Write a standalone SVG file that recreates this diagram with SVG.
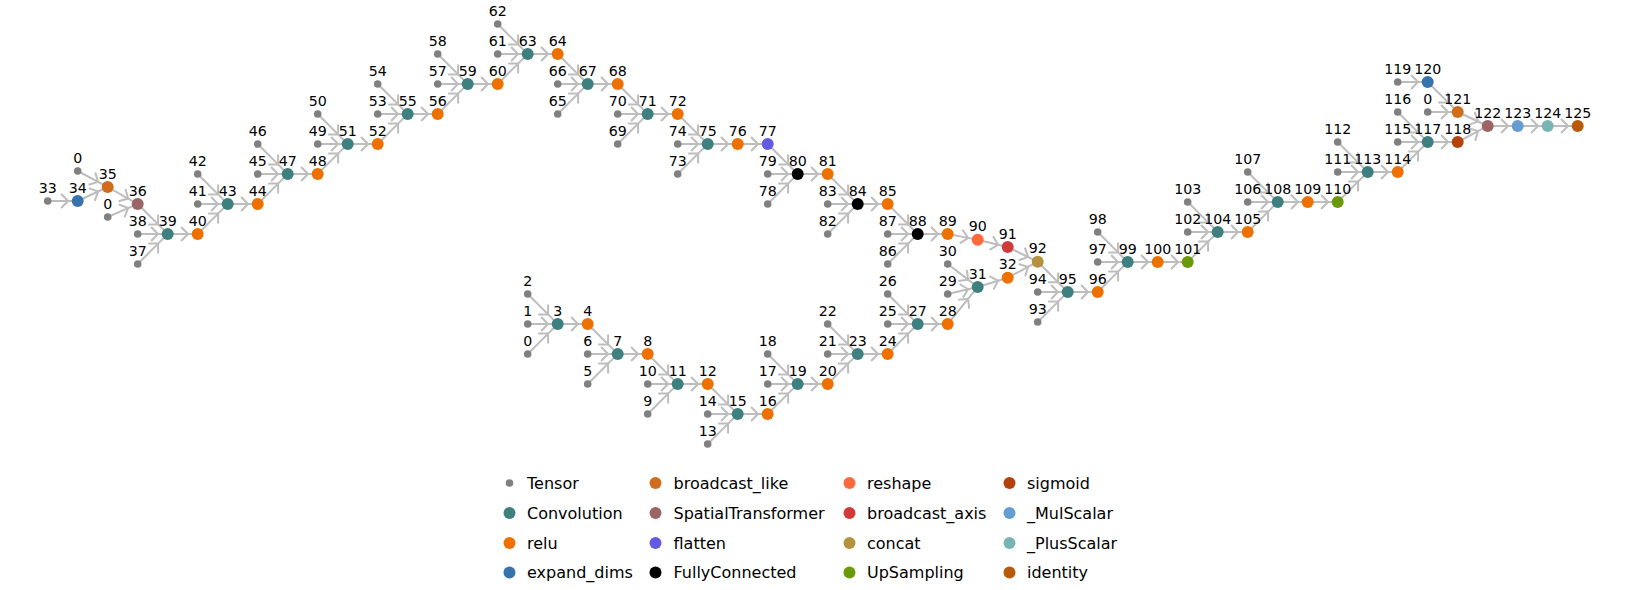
<svg xmlns="http://www.w3.org/2000/svg" width="1626" height="590" viewBox="0 0 1626 590">
<defs>
<marker id="ch" markerUnits="userSpaceOnUse" orient="auto" overflow="visible" markerWidth="20" markerHeight="20" refX="0" refY="0"><path d="M-7,-7 L0,0 L-7,7" fill="none" stroke="#bdbdbd" stroke-width="2"/></marker>
</defs>
<style>
.e{fill:none;stroke:#bdbdbd;stroke-width:2;marker-mid:url(#ch)}
text{font-family:"DejaVu Sans",sans-serif;font-size:14.2px;fill:#000;text-anchor:middle}
#legend text{font-size:16px;text-anchor:start}
.T{fill:#808080}.CV{fill:#3e7f7f}.RL{fill:#ee7100}.ED{fill:#3872ac}.BL{fill:#d06c1c}.ST{fill:#9c6464}.FL{fill:#645ae6}.FC{fill:#000}.RS{fill:#ff6a3c}.BA{fill:#d23a3a}.CC{fill:#b4913c}.UP{fill:#6a9a0a}.SG{fill:#b4420a}.MS{fill:#659cd2}.PS{fill:#78b4b4}.ID{fill:#b95a0a}
</style>
<rect width="1626" height="590" fill="#fff"/>
<g id="edges">
<path class="e" d="M47.7,201 l20.4,0 l9.6,0"/>
<path class="e" d="M77.7,201 l20.4,-9.52 l9.6,-4.48"/>
<path class="e" d="M77.7,171 l20.4,10.88 l9.6,5.12"/>
<path class="e" d="M107.7,187 l20.4,11.56 l9.6,5.44"/>
<path class="e" d="M107.7,217 l20.4,-8.84 l9.6,-4.16"/>
<path class="e" d="M137.7,204 l20.4,20.4 l9.6,9.6"/>
<path class="e" d="M137.7,234 l20.4,0 l9.6,0"/>
<path class="e" d="M137.7,264 l20.4,-20.4 l9.6,-9.6"/>
<path class="e" d="M167.7,234 l20.4,0 l9.6,0"/>
<path class="e" d="M197.7,234 l20.4,-20.4 l9.6,-9.6"/>
<path class="e" d="M197.7,174 l20.4,20.4 l9.6,9.6"/>
<path class="e" d="M197.7,204 l20.4,0 l9.6,0"/>
<path class="e" d="M227.7,204 l20.4,0 l9.6,0"/>
<path class="e" d="M257.7,204 l20.4,-20.4 l9.6,-9.6"/>
<path class="e" d="M257.7,144 l20.4,20.4 l9.6,9.6"/>
<path class="e" d="M257.7,174 l20.4,0 l9.6,0"/>
<path class="e" d="M287.7,174 l20.4,0 l9.6,0"/>
<path class="e" d="M317.7,174 l20.4,-20.4 l9.6,-9.6"/>
<path class="e" d="M317.7,114 l20.4,20.4 l9.6,9.6"/>
<path class="e" d="M317.7,144 l20.4,0 l9.6,0"/>
<path class="e" d="M347.7,144 l20.4,0 l9.6,0"/>
<path class="e" d="M377.7,144 l20.4,-20.4 l9.6,-9.6"/>
<path class="e" d="M377.7,84 l20.4,20.4 l9.6,9.6"/>
<path class="e" d="M377.7,114 l20.4,0 l9.6,0"/>
<path class="e" d="M407.7,114 l20.4,0 l9.6,0"/>
<path class="e" d="M437.7,114 l20.4,-20.4 l9.6,-9.6"/>
<path class="e" d="M437.7,54 l20.4,20.4 l9.6,9.6"/>
<path class="e" d="M437.7,84 l20.4,0 l9.6,0"/>
<path class="e" d="M467.7,84 l20.4,0 l9.6,0"/>
<path class="e" d="M497.7,84 l20.4,-20.4 l9.6,-9.6"/>
<path class="e" d="M497.7,24 l20.4,20.4 l9.6,9.6"/>
<path class="e" d="M497.7,54 l20.4,0 l9.6,0"/>
<path class="e" d="M527.7,54 l20.4,0 l9.6,0"/>
<path class="e" d="M557.7,54 l20.4,20.4 l9.6,9.6"/>
<path class="e" d="M557.7,84 l20.4,0 l9.6,0"/>
<path class="e" d="M557.7,114 l20.4,-20.4 l9.6,-9.6"/>
<path class="e" d="M587.7,84 l20.4,0 l9.6,0"/>
<path class="e" d="M617.7,84 l20.4,20.4 l9.6,9.6"/>
<path class="e" d="M617.7,114 l20.4,0 l9.6,0"/>
<path class="e" d="M617.7,144 l20.4,-20.4 l9.6,-9.6"/>
<path class="e" d="M647.7,114 l20.4,0 l9.6,0"/>
<path class="e" d="M677.7,114 l20.4,20.4 l9.6,9.6"/>
<path class="e" d="M677.7,144 l20.4,0 l9.6,0"/>
<path class="e" d="M677.7,174 l20.4,-20.4 l9.6,-9.6"/>
<path class="e" d="M707.7,144 l20.4,0 l9.6,0"/>
<path class="e" d="M737.7,144 l20.4,0 l9.6,0"/>
<path class="e" d="M767.7,144 l20.4,20.4 l9.6,9.6"/>
<path class="e" d="M767.7,174 l20.4,0 l9.6,0"/>
<path class="e" d="M767.7,204 l20.4,-20.4 l9.6,-9.6"/>
<path class="e" d="M797.7,174 l20.4,0 l9.6,0"/>
<path class="e" d="M827.7,174 l20.4,20.4 l9.6,9.6"/>
<path class="e" d="M827.7,204 l20.4,0 l9.6,0"/>
<path class="e" d="M827.7,234 l20.4,-20.4 l9.6,-9.6"/>
<path class="e" d="M857.7,204 l20.4,0 l9.6,0"/>
<path class="e" d="M887.7,204 l20.4,20.4 l9.6,9.6"/>
<path class="e" d="M887.7,234 l20.4,0 l9.6,0"/>
<path class="e" d="M887.7,264 l20.4,-20.4 l9.6,-9.6"/>
<path class="e" d="M917.7,234 l20.4,0 l9.6,0"/>
<path class="e" d="M947.7,234 l20.4,3.88 l9.6,1.82"/>
<path class="e" d="M977.7,239.7 l20.4,4.96 l9.6,2.34"/>
<path class="e" d="M1007.7,247 l20.4,10 l9.6,4.7"/>
<path class="e" d="M1007.7,277.7 l20.4,-10.88 l9.6,-5.12"/>
<path class="e" d="M527.7,294 l20.4,20.4 l9.6,9.6"/>
<path class="e" d="M527.7,324 l20.4,0 l9.6,0"/>
<path class="e" d="M527.7,354 l20.4,-20.4 l9.6,-9.6"/>
<path class="e" d="M557.7,324 l20.4,0 l9.6,0"/>
<path class="e" d="M587.7,324 l20.4,20.4 l9.6,9.6"/>
<path class="e" d="M587.7,354 l20.4,0 l9.6,0"/>
<path class="e" d="M587.7,384 l20.4,-20.4 l9.6,-9.6"/>
<path class="e" d="M617.7,354 l20.4,0 l9.6,0"/>
<path class="e" d="M647.7,354 l20.4,20.4 l9.6,9.6"/>
<path class="e" d="M647.7,384 l20.4,0 l9.6,0"/>
<path class="e" d="M647.7,414 l20.4,-20.4 l9.6,-9.6"/>
<path class="e" d="M677.7,384 l20.4,0 l9.6,0"/>
<path class="e" d="M707.7,384 l20.4,20.4 l9.6,9.6"/>
<path class="e" d="M707.7,414 l20.4,0 l9.6,0"/>
<path class="e" d="M707.7,444 l20.4,-20.4 l9.6,-9.6"/>
<path class="e" d="M737.7,414 l20.4,0 l9.6,0"/>
<path class="e" d="M767.7,414 l20.4,-20.4 l9.6,-9.6"/>
<path class="e" d="M767.7,354 l20.4,20.4 l9.6,9.6"/>
<path class="e" d="M767.7,384 l20.4,0 l9.6,0"/>
<path class="e" d="M797.7,384 l20.4,0 l9.6,0"/>
<path class="e" d="M827.7,384 l20.4,-20.4 l9.6,-9.6"/>
<path class="e" d="M827.7,324 l20.4,20.4 l9.6,9.6"/>
<path class="e" d="M827.7,354 l20.4,0 l9.6,0"/>
<path class="e" d="M857.7,354 l20.4,0 l9.6,0"/>
<path class="e" d="M887.7,354 l20.4,-20.4 l9.6,-9.6"/>
<path class="e" d="M887.7,294 l20.4,20.4 l9.6,9.6"/>
<path class="e" d="M887.7,324 l20.4,0 l9.6,0"/>
<path class="e" d="M917.7,324 l20.4,0 l9.6,0"/>
<path class="e" d="M947.7,324 l20.4,-25.16 l9.6,-11.84"/>
<path class="e" d="M947.7,264 l20.4,15.64 l9.6,7.36"/>
<path class="e" d="M947.7,294 l20.4,-4.76 l9.6,-2.24"/>
<path class="e" d="M977.7,287 l20.4,-6.32 l9.6,-2.98"/>
<path class="e" d="M1037.7,261.7 l20.4,20.6 l9.6,9.7"/>
<path class="e" d="M1037.7,292 l20.4,0 l9.6,0"/>
<path class="e" d="M1037.7,322 l20.4,-20.4 l9.6,-9.6"/>
<path class="e" d="M1067.7,292 l20.4,0 l9.6,0"/>
<path class="e" d="M1097.7,292 l20.4,-20.4 l9.6,-9.6"/>
<path class="e" d="M1097.7,232 l20.4,20.4 l9.6,9.6"/>
<path class="e" d="M1097.7,262 l20.4,0 l9.6,0"/>
<path class="e" d="M1127.7,262 l20.4,0 l9.6,0"/>
<path class="e" d="M1157.7,262 l20.4,0 l9.6,0"/>
<path class="e" d="M1187.7,262 l20.4,-20.4 l9.6,-9.6"/>
<path class="e" d="M1187.7,202 l20.4,20.4 l9.6,9.6"/>
<path class="e" d="M1187.7,232 l20.4,0 l9.6,0"/>
<path class="e" d="M1217.7,232 l20.4,0 l9.6,0"/>
<path class="e" d="M1247.7,232 l20.4,-20.4 l9.6,-9.6"/>
<path class="e" d="M1247.7,172 l20.4,20.4 l9.6,9.6"/>
<path class="e" d="M1247.7,202 l20.4,0 l9.6,0"/>
<path class="e" d="M1277.7,202 l20.4,0 l9.6,0"/>
<path class="e" d="M1307.7,202 l20.4,0 l9.6,0"/>
<path class="e" d="M1337.7,202 l20.4,-20.4 l9.6,-9.6"/>
<path class="e" d="M1337.7,142 l20.4,20.4 l9.6,9.6"/>
<path class="e" d="M1337.7,172 l20.4,0 l9.6,0"/>
<path class="e" d="M1367.7,172 l20.4,0 l9.6,0"/>
<path class="e" d="M1397.7,172 l20.4,-20.4 l9.6,-9.6"/>
<path class="e" d="M1397.7,112 l20.4,20.4 l9.6,9.6"/>
<path class="e" d="M1397.7,142 l20.4,0 l9.6,0"/>
<path class="e" d="M1427.7,142 l20.4,0 l9.6,0"/>
<path class="e" d="M1457.7,142 l20.4,-10.88 l9.6,-5.12"/>
<path class="e" d="M1457.7,112 l20.4,9.52 l9.6,4.48"/>
<path class="e" d="M1397.7,82 l20.4,0 l9.6,0"/>
<path class="e" d="M1427.7,82 l20.4,20.4 l9.6,9.6"/>
<path class="e" d="M1427.7,112 l20.4,0 l9.6,0"/>
<path class="e" d="M1487.7,126 l20.4,0 l9.6,0"/>
<path class="e" d="M1517.7,126 l20.4,0 l9.6,0"/>
<path class="e" d="M1547.7,126 l20.4,0 l9.6,0"/>
</g>
<g id="nodes">
<g id="n33"><circle class="T" cx="47.7" cy="201" r="3.8"/><text x="47.7" y="192.5">33</text></g>
<g id="n34"><circle class="ED" cx="77.7" cy="201" r="6"/><text x="77.7" y="192.5">34</text></g>
<g id="n0a"><circle class="T" cx="77.7" cy="171" r="3.8"/><text x="77.7" y="162.5">0</text></g>
<g id="n35"><circle class="BL" cx="107.7" cy="187" r="6"/><text x="107.7" y="178.5">35</text></g>
<g id="n0b"><circle class="T" cx="107.7" cy="217" r="3.8"/><text x="107.7" y="208.5">0</text></g>
<g id="n36"><circle class="ST" cx="137.7" cy="204" r="6"/><text x="137.7" y="195.5">36</text></g>
<g id="n38"><circle class="T" cx="137.7" cy="234" r="3.8"/><text x="137.7" y="225.5">38</text></g>
<g id="n37"><circle class="T" cx="137.7" cy="264" r="3.8"/><text x="137.7" y="255.5">37</text></g>
<g id="n39"><circle class="CV" cx="167.7" cy="234" r="6"/><text x="167.7" y="225.5">39</text></g>
<g id="n40"><circle class="RL" cx="197.7" cy="234" r="6"/><text x="197.7" y="225.5">40</text></g>
<g id="n42"><circle class="T" cx="197.7" cy="174" r="3.8"/><text x="197.7" y="165.5">42</text></g>
<g id="n41"><circle class="T" cx="197.7" cy="204" r="3.8"/><text x="197.7" y="195.5">41</text></g>
<g id="n43"><circle class="CV" cx="227.7" cy="204" r="6"/><text x="227.7" y="195.5">43</text></g>
<g id="n44"><circle class="RL" cx="257.7" cy="204" r="6"/><text x="257.7" y="195.5">44</text></g>
<g id="n46"><circle class="T" cx="257.7" cy="144" r="3.8"/><text x="257.7" y="135.5">46</text></g>
<g id="n45"><circle class="T" cx="257.7" cy="174" r="3.8"/><text x="257.7" y="165.5">45</text></g>
<g id="n47"><circle class="CV" cx="287.7" cy="174" r="6"/><text x="287.7" y="165.5">47</text></g>
<g id="n48"><circle class="RL" cx="317.7" cy="174" r="6"/><text x="317.7" y="165.5">48</text></g>
<g id="n50"><circle class="T" cx="317.7" cy="114" r="3.8"/><text x="317.7" y="105.5">50</text></g>
<g id="n49"><circle class="T" cx="317.7" cy="144" r="3.8"/><text x="317.7" y="135.5">49</text></g>
<g id="n51"><circle class="CV" cx="347.7" cy="144" r="6"/><text x="347.7" y="135.5">51</text></g>
<g id="n52"><circle class="RL" cx="377.7" cy="144" r="6"/><text x="377.7" y="135.5">52</text></g>
<g id="n54"><circle class="T" cx="377.7" cy="84" r="3.8"/><text x="377.7" y="75.5">54</text></g>
<g id="n53"><circle class="T" cx="377.7" cy="114" r="3.8"/><text x="377.7" y="105.5">53</text></g>
<g id="n55"><circle class="CV" cx="407.7" cy="114" r="6"/><text x="407.7" y="105.5">55</text></g>
<g id="n56"><circle class="RL" cx="437.7" cy="114" r="6"/><text x="437.7" y="105.5">56</text></g>
<g id="n58"><circle class="T" cx="437.7" cy="54" r="3.8"/><text x="437.7" y="45.5">58</text></g>
<g id="n57"><circle class="T" cx="437.7" cy="84" r="3.8"/><text x="437.7" y="75.5">57</text></g>
<g id="n59"><circle class="CV" cx="467.7" cy="84" r="6"/><text x="467.7" y="75.5">59</text></g>
<g id="n60"><circle class="RL" cx="497.7" cy="84" r="6"/><text x="497.7" y="75.5">60</text></g>
<g id="n62"><circle class="T" cx="497.7" cy="24" r="3.8"/><text x="497.7" y="15.5">62</text></g>
<g id="n61"><circle class="T" cx="497.7" cy="54" r="3.8"/><text x="497.7" y="45.5">61</text></g>
<g id="n63"><circle class="CV" cx="527.7" cy="54" r="6"/><text x="527.7" y="45.5">63</text></g>
<g id="n64"><circle class="RL" cx="557.7" cy="54" r="6"/><text x="557.7" y="45.5">64</text></g>
<g id="n66"><circle class="T" cx="557.7" cy="84" r="3.8"/><text x="557.7" y="75.5">66</text></g>
<g id="n65"><circle class="T" cx="557.7" cy="114" r="3.8"/><text x="557.7" y="105.5">65</text></g>
<g id="n67"><circle class="CV" cx="587.7" cy="84" r="6"/><text x="587.7" y="75.5">67</text></g>
<g id="n68"><circle class="RL" cx="617.7" cy="84" r="6"/><text x="617.7" y="75.5">68</text></g>
<g id="n70"><circle class="T" cx="617.7" cy="114" r="3.8"/><text x="617.7" y="105.5">70</text></g>
<g id="n69"><circle class="T" cx="617.7" cy="144" r="3.8"/><text x="617.7" y="135.5">69</text></g>
<g id="n71"><circle class="CV" cx="647.7" cy="114" r="6"/><text x="647.7" y="105.5">71</text></g>
<g id="n72"><circle class="RL" cx="677.7" cy="114" r="6"/><text x="677.7" y="105.5">72</text></g>
<g id="n74"><circle class="T" cx="677.7" cy="144" r="3.8"/><text x="677.7" y="135.5">74</text></g>
<g id="n73"><circle class="T" cx="677.7" cy="174" r="3.8"/><text x="677.7" y="165.5">73</text></g>
<g id="n75"><circle class="CV" cx="707.7" cy="144" r="6"/><text x="707.7" y="135.5">75</text></g>
<g id="n76"><circle class="RL" cx="737.7" cy="144" r="6"/><text x="737.7" y="135.5">76</text></g>
<g id="n77"><circle class="FL" cx="767.7" cy="144" r="6"/><text x="767.7" y="135.5">77</text></g>
<g id="n79"><circle class="T" cx="767.7" cy="174" r="3.8"/><text x="767.7" y="165.5">79</text></g>
<g id="n78"><circle class="T" cx="767.7" cy="204" r="3.8"/><text x="767.7" y="195.5">78</text></g>
<g id="n80"><circle class="FC" cx="797.7" cy="174" r="6"/><text x="797.7" y="165.5">80</text></g>
<g id="n81"><circle class="RL" cx="827.7" cy="174" r="6"/><text x="827.7" y="165.5">81</text></g>
<g id="n83"><circle class="T" cx="827.7" cy="204" r="3.8"/><text x="827.7" y="195.5">83</text></g>
<g id="n82"><circle class="T" cx="827.7" cy="234" r="3.8"/><text x="827.7" y="225.5">82</text></g>
<g id="n84"><circle class="FC" cx="857.7" cy="204" r="6"/><text x="857.7" y="195.5">84</text></g>
<g id="n85"><circle class="RL" cx="887.7" cy="204" r="6"/><text x="887.7" y="195.5">85</text></g>
<g id="n87"><circle class="T" cx="887.7" cy="234" r="3.8"/><text x="887.7" y="225.5">87</text></g>
<g id="n86"><circle class="T" cx="887.7" cy="264" r="3.8"/><text x="887.7" y="255.5">86</text></g>
<g id="n88"><circle class="FC" cx="917.7" cy="234" r="6"/><text x="917.7" y="225.5">88</text></g>
<g id="n89"><circle class="RL" cx="947.7" cy="234" r="6"/><text x="947.7" y="225.5">89</text></g>
<g id="n90"><circle class="RS" cx="977.7" cy="239.7" r="6"/><text x="977.7" y="231.2">90</text></g>
<g id="n91"><circle class="BA" cx="1007.7" cy="247" r="6"/><text x="1007.7" y="238.5">91</text></g>
<g id="n92"><circle class="CC" cx="1037.7" cy="261.7" r="6"/><text x="1037.7" y="253.2">92</text></g>
<g id="n2"><circle class="T" cx="527.7" cy="294" r="3.8"/><text x="527.7" y="285.5">2</text></g>
<g id="n1"><circle class="T" cx="527.7" cy="324" r="3.8"/><text x="527.7" y="315.5">1</text></g>
<g id="n0c"><circle class="T" cx="527.7" cy="354" r="3.8"/><text x="527.7" y="345.5">0</text></g>
<g id="n3"><circle class="CV" cx="557.7" cy="324" r="6"/><text x="557.7" y="315.5">3</text></g>
<g id="n4"><circle class="RL" cx="587.7" cy="324" r="6"/><text x="587.7" y="315.5">4</text></g>
<g id="n6"><circle class="T" cx="587.7" cy="354" r="3.8"/><text x="587.7" y="345.5">6</text></g>
<g id="n5"><circle class="T" cx="587.7" cy="384" r="3.8"/><text x="587.7" y="375.5">5</text></g>
<g id="n7"><circle class="CV" cx="617.7" cy="354" r="6"/><text x="617.7" y="345.5">7</text></g>
<g id="n8"><circle class="RL" cx="647.7" cy="354" r="6"/><text x="647.7" y="345.5">8</text></g>
<g id="n10"><circle class="T" cx="647.7" cy="384" r="3.8"/><text x="647.7" y="375.5">10</text></g>
<g id="n9"><circle class="T" cx="647.7" cy="414" r="3.8"/><text x="647.7" y="405.5">9</text></g>
<g id="n11"><circle class="CV" cx="677.7" cy="384" r="6"/><text x="677.7" y="375.5">11</text></g>
<g id="n12"><circle class="RL" cx="707.7" cy="384" r="6"/><text x="707.7" y="375.5">12</text></g>
<g id="n14"><circle class="T" cx="707.7" cy="414" r="3.8"/><text x="707.7" y="405.5">14</text></g>
<g id="n13"><circle class="T" cx="707.7" cy="444" r="3.8"/><text x="707.7" y="435.5">13</text></g>
<g id="n15"><circle class="CV" cx="737.7" cy="414" r="6"/><text x="737.7" y="405.5">15</text></g>
<g id="n16"><circle class="RL" cx="767.7" cy="414" r="6"/><text x="767.7" y="405.5">16</text></g>
<g id="n18"><circle class="T" cx="767.7" cy="354" r="3.8"/><text x="767.7" y="345.5">18</text></g>
<g id="n17"><circle class="T" cx="767.7" cy="384" r="3.8"/><text x="767.7" y="375.5">17</text></g>
<g id="n19"><circle class="CV" cx="797.7" cy="384" r="6"/><text x="797.7" y="375.5">19</text></g>
<g id="n20"><circle class="RL" cx="827.7" cy="384" r="6"/><text x="827.7" y="375.5">20</text></g>
<g id="n22"><circle class="T" cx="827.7" cy="324" r="3.8"/><text x="827.7" y="315.5">22</text></g>
<g id="n21"><circle class="T" cx="827.7" cy="354" r="3.8"/><text x="827.7" y="345.5">21</text></g>
<g id="n23"><circle class="CV" cx="857.7" cy="354" r="6"/><text x="857.7" y="345.5">23</text></g>
<g id="n24"><circle class="RL" cx="887.7" cy="354" r="6"/><text x="887.7" y="345.5">24</text></g>
<g id="n26"><circle class="T" cx="887.7" cy="294" r="3.8"/><text x="887.7" y="285.5">26</text></g>
<g id="n25"><circle class="T" cx="887.7" cy="324" r="3.8"/><text x="887.7" y="315.5">25</text></g>
<g id="n27"><circle class="CV" cx="917.7" cy="324" r="6"/><text x="917.7" y="315.5">27</text></g>
<g id="n28"><circle class="RL" cx="947.7" cy="324" r="6"/><text x="947.7" y="315.5">28</text></g>
<g id="n30"><circle class="T" cx="947.7" cy="264" r="3.8"/><text x="947.7" y="255.5">30</text></g>
<g id="n29"><circle class="T" cx="947.7" cy="294" r="3.8"/><text x="947.7" y="285.5">29</text></g>
<g id="n31"><circle class="CV" cx="977.7" cy="287" r="6"/><text x="977.7" y="278.5">31</text></g>
<g id="n32"><circle class="RL" cx="1007.7" cy="277.7" r="6"/><text x="1007.7" y="269.2">32</text></g>
<g id="n94"><circle class="T" cx="1037.7" cy="292" r="3.8"/><text x="1037.7" y="283.5">94</text></g>
<g id="n93"><circle class="T" cx="1037.7" cy="322" r="3.8"/><text x="1037.7" y="313.5">93</text></g>
<g id="n95"><circle class="CV" cx="1067.7" cy="292" r="6"/><text x="1067.7" y="283.5">95</text></g>
<g id="n96"><circle class="RL" cx="1097.7" cy="292" r="6"/><text x="1097.7" y="283.5">96</text></g>
<g id="n98"><circle class="T" cx="1097.7" cy="232" r="3.8"/><text x="1097.7" y="223.5">98</text></g>
<g id="n97"><circle class="T" cx="1097.7" cy="262" r="3.8"/><text x="1097.7" y="253.5">97</text></g>
<g id="n99"><circle class="CV" cx="1127.7" cy="262" r="6"/><text x="1127.7" y="253.5">99</text></g>
<g id="n100"><circle class="RL" cx="1157.7" cy="262" r="6"/><text x="1157.7" y="253.5">100</text></g>
<g id="n101"><circle class="UP" cx="1187.7" cy="262" r="6"/><text x="1187.7" y="253.5">101</text></g>
<g id="n103"><circle class="T" cx="1187.7" cy="202" r="3.8"/><text x="1187.7" y="193.5">103</text></g>
<g id="n102"><circle class="T" cx="1187.7" cy="232" r="3.8"/><text x="1187.7" y="223.5">102</text></g>
<g id="n104"><circle class="CV" cx="1217.7" cy="232" r="6"/><text x="1217.7" y="223.5">104</text></g>
<g id="n105"><circle class="RL" cx="1247.7" cy="232" r="6"/><text x="1247.7" y="223.5">105</text></g>
<g id="n107"><circle class="T" cx="1247.7" cy="172" r="3.8"/><text x="1247.7" y="163.5">107</text></g>
<g id="n106"><circle class="T" cx="1247.7" cy="202" r="3.8"/><text x="1247.7" y="193.5">106</text></g>
<g id="n108"><circle class="CV" cx="1277.7" cy="202" r="6"/><text x="1277.7" y="193.5">108</text></g>
<g id="n109"><circle class="RL" cx="1307.7" cy="202" r="6"/><text x="1307.7" y="193.5">109</text></g>
<g id="n110"><circle class="UP" cx="1337.7" cy="202" r="6"/><text x="1337.7" y="193.5">110</text></g>
<g id="n112"><circle class="T" cx="1337.7" cy="142" r="3.8"/><text x="1337.7" y="133.5">112</text></g>
<g id="n111"><circle class="T" cx="1337.7" cy="172" r="3.8"/><text x="1337.7" y="163.5">111</text></g>
<g id="n113"><circle class="CV" cx="1367.7" cy="172" r="6"/><text x="1367.7" y="163.5">113</text></g>
<g id="n114"><circle class="RL" cx="1397.7" cy="172" r="6"/><text x="1397.7" y="163.5">114</text></g>
<g id="n116"><circle class="T" cx="1397.7" cy="112" r="3.8"/><text x="1397.7" y="103.5">116</text></g>
<g id="n115"><circle class="T" cx="1397.7" cy="142" r="3.8"/><text x="1397.7" y="133.5">115</text></g>
<g id="n117"><circle class="CV" cx="1427.7" cy="142" r="6"/><text x="1427.7" y="133.5">117</text></g>
<g id="n118"><circle class="SG" cx="1457.7" cy="142" r="6"/><text x="1457.7" y="133.5">118</text></g>
<g id="n119"><circle class="T" cx="1397.7" cy="82" r="3.8"/><text x="1397.7" y="73.5">119</text></g>
<g id="n120"><circle class="ED" cx="1427.7" cy="82" r="6"/><text x="1427.7" y="73.5">120</text></g>
<g id="n0d"><circle class="T" cx="1427.7" cy="112" r="3.8"/><text x="1427.7" y="103.5">0</text></g>
<g id="n121"><circle class="BL" cx="1457.7" cy="112" r="6"/><text x="1457.7" y="103.5">121</text></g>
<g id="n122"><circle class="ST" cx="1487.7" cy="126" r="6"/><text x="1487.7" y="117.5">122</text></g>
<g id="n123"><circle class="MS" cx="1517.7" cy="126" r="6"/><text x="1517.7" y="117.5">123</text></g>
<g id="n124"><circle class="PS" cx="1547.7" cy="126" r="6"/><text x="1547.7" y="117.5">124</text></g>
<g id="n125"><circle class="ID" cx="1577.7" cy="126" r="6"/><text x="1577.7" y="117.5">125</text></g>
</g>
<g id="legend">
<circle class="T" cx="509.5" cy="483" r="3.8"/><text x="527" y="488.8">Tensor</text>
<circle class="CV" cx="509.5" cy="513" r="6"/><text x="527" y="518.8">Convolution</text>
<circle class="RL" cx="509.5" cy="543" r="6"/><text x="527" y="548.8">relu</text>
<circle class="ED" cx="509.5" cy="572.5" r="6"/><text x="527" y="578.3">expand_dims</text>
<circle class="BL" cx="655.5" cy="483" r="6"/><text x="673.5" y="488.8">broadcast_like</text>
<circle class="ST" cx="655.5" cy="513" r="6"/><text x="673.5" y="518.8">SpatialTransformer</text>
<circle class="FL" cx="655.5" cy="543" r="6"/><text x="673.5" y="548.8">flatten</text>
<circle class="FC" cx="655.5" cy="572.5" r="6"/><text x="673.5" y="578.3">FullyConnected</text>
<circle class="RS" cx="849.5" cy="483" r="6"/><text x="867" y="488.8">reshape</text>
<circle class="BA" cx="849.5" cy="513" r="6"/><text x="867" y="518.8">broadcast_axis</text>
<circle class="CC" cx="849.5" cy="543" r="6"/><text x="867" y="548.8">concat</text>
<circle class="UP" cx="849.5" cy="572.5" r="6"/><text x="867" y="578.3">UpSampling</text>
<circle class="SG" cx="1009.5" cy="483" r="6"/><text x="1027" y="488.8">sigmoid</text>
<circle class="MS" cx="1009.5" cy="513" r="6"/><text x="1027" y="518.8">_MulScalar</text>
<circle class="PS" cx="1009.5" cy="543" r="6"/><text x="1027" y="548.8">_PlusScalar</text>
<circle class="ID" cx="1009.5" cy="572.5" r="6"/><text x="1027" y="578.3">identity</text>
</g>
</svg>
